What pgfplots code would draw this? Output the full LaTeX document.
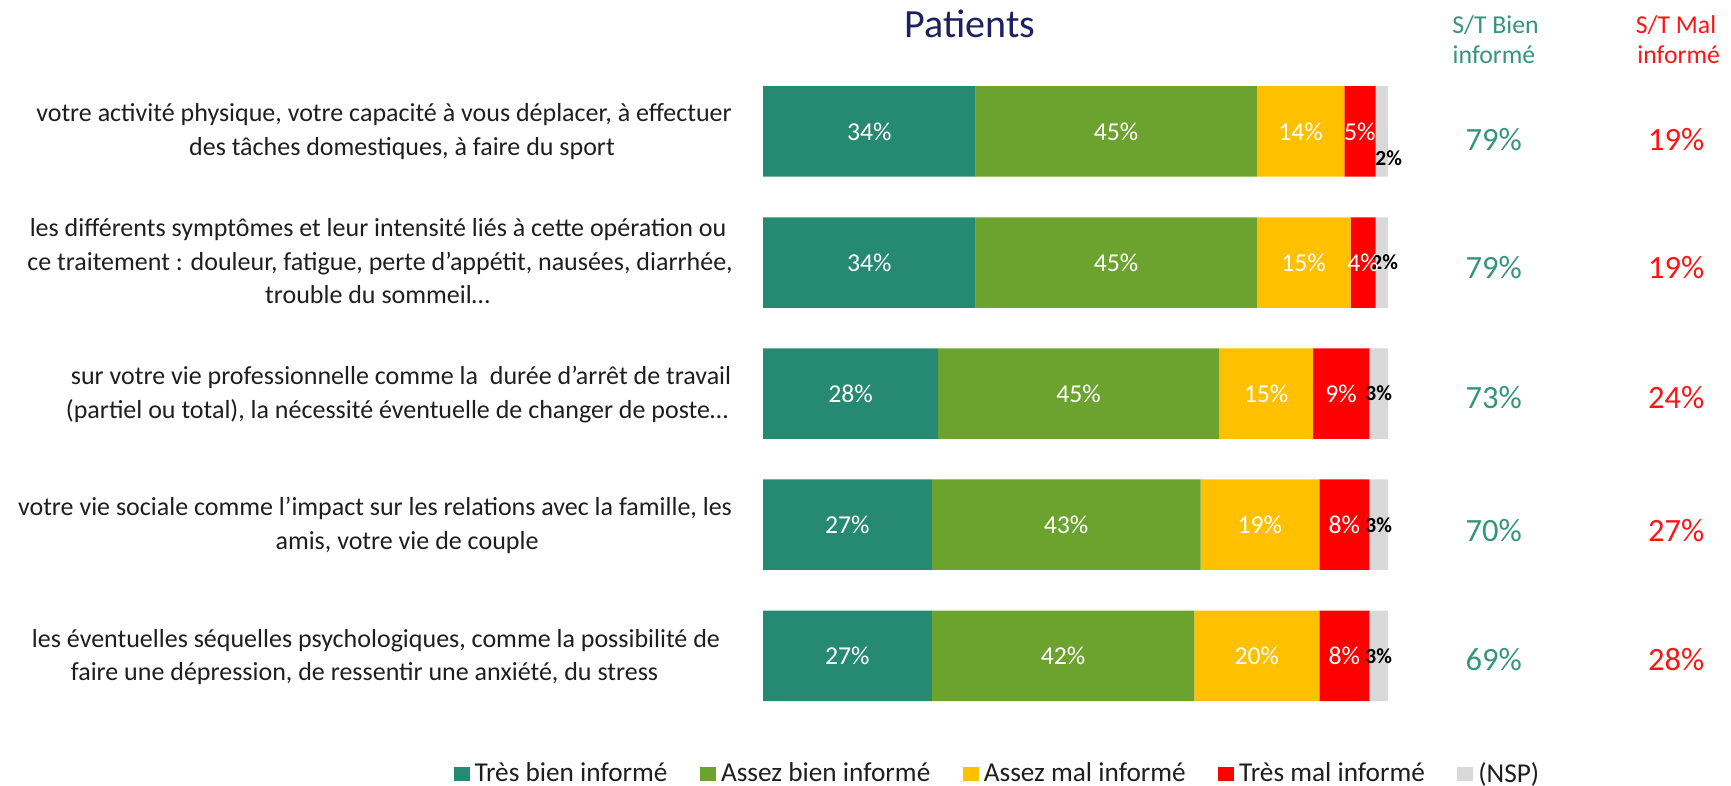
\documentclass[border=0pt]{standalone}
\usepackage{fontspec}
\setmainfont{Carlito}
\usepackage{pgfplots}
\pgfplotsset{compat=1.18}
\usepackage{pgfplotstable}

\definecolor{tealbar}{RGB}{38,137,114}
\definecolor{greenbar}{RGB}{107,163,46}
\definecolor{yellowbar}{RGB}{255,192,0}
\definecolor{redbar}{RGB}{255,0,0}
\definecolor{graybar}{RGB}{217,217,217}
\definecolor{tealtxt}{RGB}{52,150,120}
\definecolor{redtxt}{RGB}{255,20,20}
\definecolor{navy}{RGB}{30,32,96}
\definecolor{labtxt}{RGB}{30,30,30}

\newcommand\barfont{\fontsize{10.3}{12}\selectfont}
\newcommand\nspfont{\fontsize{8.6}{10}\selectfont\bfseries}
\newcommand\labfont{\fontsize{10.4}{12.5}\selectfont}
\newcommand\totfont{\fontsize{13}{15}\selectfont}
\newcommand\headfont{\fontsize{10.3}{12.5}\selectfont}
\newcommand\titlefont{\fontsize{16}{19}\selectfont}

\pgfplotsset{sqlegend/.style={legend image code/.code={\fill[##1] (0pt,-2.6pt) rectangle (6.4pt,3pt);}}}

\pgfplotstableread{
y a b c d e dx dy
0 34 45 14 5 2 2.8 -10.8
1 34 45 15 4 2 1.2 0
2 28 45 15 9 3 0 0
3 27 43 19 8 3 0 0
4 27 42 20 8 3 0 0
}\data

\begin{document}
\begin{tikzpicture}
\useasboundingbox (0,0) rectangle (692.4pt,314pt);
\begin{axis}[
  at={(305.2pt,25.46pt)}, anchor=south west,
  scale only axis, width=250pt, height=262.2pt,
  xmin=0, xmax=100, ymin=-0.5, ymax=4.5, y dir=reverse,
  xbar stacked, bar width=36.2pt,
  hide axis, clip=false,
  legend columns=5,
  legend cell align=left,
  legend style={at={(axis description cs:-0.496,-0.0803)}, anchor=west,
    draw=none, fill=none, inner sep=0pt,
    font=\fontsize{10.9}{13}\selectfont, text=labtxt,
    /tikz/every even column/.append style={column sep=11pt}},
]
\addplot[fill=tealbar, draw=none, sqlegend,
  nodes near coords={\pgfplotspointmeta\%}, point meta=explicit symbolic,
  nodes near coords style={font=\barfont, text=white, anchor=center}]
  table[x=a, y=y, meta=a] {\data};
\addlegendentry{Très bien informé}
\addplot[fill=greenbar, draw=none, sqlegend,
  nodes near coords={\pgfplotspointmeta\%}, point meta=explicit symbolic,
  nodes near coords style={font=\barfont, text=white, anchor=center}]
  table[x=b, y=y, meta=b] {\data};
\addlegendentry{Assez bien informé}
\addplot[fill=yellowbar, draw=none, sqlegend,
  nodes near coords={\pgfplotspointmeta\%}, point meta=explicit symbolic,
  nodes near coords style={font=\barfont, text=white, anchor=center}]
  table[x=c, y=y, meta=c] {\data};
\addlegendentry{Assez mal informé}
\addplot[fill=redbar, draw=none, sqlegend,
  nodes near coords={\pgfplotspointmeta\%}, point meta=explicit symbolic,
  nodes near coords style={font=\barfont, text=white, anchor=center}]
  table[x=d, y=y, meta=d] {\data};
\addlegendentry{Très mal informé}
\addplot[fill=graybar, draw=none, sqlegend,
  nodes near coords={\pgfplotspointmeta\%}, point meta=explicit symbolic,
  visualization depends on={\thisrow{dx}\as\nspdx},
  visualization depends on={\thisrow{dy}\as\nspdy},
  nodes near coords style={font=\nspfont, text=black, anchor=center,
    xshift=\nspdx pt, yshift=\nspdy pt}]
  table[x=e, y=y, meta=e] {\data};
\addlegendentry{(NSP)}
\end{axis}

\begin{scope}[x=0.4pt, y=-0.4pt, shift={(0,314pt)}]
  % title and headers
  \node[anchor=base, text=navy, font=\titlefont, inner sep=0pt] at (970,37.3) {Patients};
  \node[anchor=base, text=tealtxt, font=\headfont, inner sep=0pt] at (1495.5,33.3) {S/T Bien};
  \node[anchor=base, text=tealtxt, font=\headfont, inner sep=0pt] at (1494,64) {informé};
  \node[anchor=base, text=redtxt, font=\headfont, inner sep=0pt] at (1676,33.3) {S/T Mal};
  \node[anchor=base, text=redtxt, font=\headfont, inner sep=0pt] at (1678.7,64) {informé};
  % totals
  \foreach \yy/\bv/\mv in {151/79/19, 279/79/19, 409/73/24, 541.7/70/27, 670.7/69/28}{
    \node[anchor=base, text=tealtxt, font=\totfont, inner sep=0pt] at (1493.7,\yy) {\bv\%};
    \node[anchor=base, text=redtxt, font=\totfont, inner sep=0pt] at (1676.3,\yy) {\mv\%};
  }
  % category labels
  \begin{scope}[every node/.style={anchor=base, text=labtxt, font=\labfont, inner sep=0pt}]
  \node at (384,122) {votre activité physique, votre capacité à vous déplacer, à effectuer};
  \node at (402,156) {des tâches domestiques, à faire du sport};
  \node at (378,237) {les différents symptômes et leur intensité liés à cette opération ou};
  \node at (380,271) {ce traitement : douleur, fatigue, perte d’appétit, nausées, diarrhée,};
  \node at (377.5,304) {trouble du sommeil…};
  \node at (401,384.5) {sur votre vie professionnelle comme la~ durée d’arrêt de travail};
  \node at (397,418.5) {(partiel ou total), la nécessité éventuelle de changer de poste…};
  \node at (375,516) {votre vie sociale comme l’impact sur les relations avec la famille, les};
  \node at (407,550) {amis, votre vie de couple};
  \node at (376,647) {les éventuelles séquelles psychologiques, comme la possibilité de};
  \node at (364.5,681) {faire une dépression, de ressentir une anxiété, du stress};
  \end{scope}
\end{scope}
\end{tikzpicture}
\end{document}
